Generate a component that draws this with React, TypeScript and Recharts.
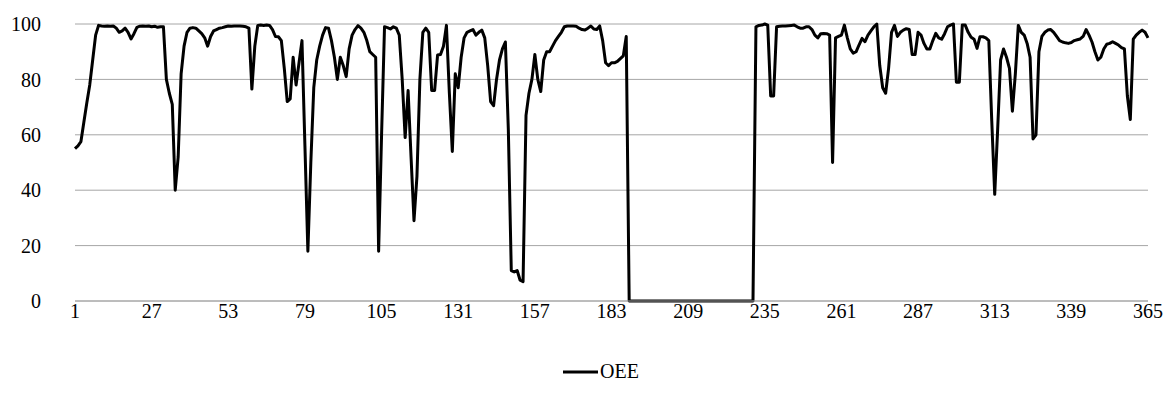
import { LineChart, Line, XAxis, YAxis, CartesianGrid, Legend } from 'recharts';

const FONT = '"Liberation Serif", "DejaVu Serif", "Times New Roman", Times, serif';

// daily OEE, split by quarter (365 days)
const oeeQ1 = [
  55, 56, 57.5, 64.5, 71.5, 78, 87, 96, 99.5, 99.3,
  99.2, 99.3, 99.2, 99.3, 98.5, 97, 97.5, 98.5, 97, 94.6,
  96.5, 98.8, 99.2, 99.3, 99.2, 99.3, 99, 99.2, 98.8, 99,
  99, 80, 75, 71, 40, 52, 82, 92, 97, 98.5,
  98.7, 98.5, 97.5, 96.5, 95, 92, 95.5, 97.5, 98, 98.5,
  98.7, 99, 99.3, 99.2, 99.3, 99.3, 99.3, 99.2, 99, 98.5,
  76.5, 92, 99.5, 99.6, 99.5, 99.6, 99.5, 98, 95.5, 95.4,
  94, 84, 72, 73, 88, 78, 86, 94, 56, 18,
  50, 77, 87, 92, 96, 98.7, 98.5, 94, 88, 80,
];

const oeeQ2 = [
  88, 85, 81, 91, 96, 98, 99.4, 98.5, 97, 94,
  90, 89, 88, 18, 60, 99, 98.7, 98.2, 99, 98.5,
  96, 80, 59, 76, 52, 29, 45, 80, 97, 98.5,
  97, 76, 76, 88.8, 89, 92, 99.5, 75, 54, 82,
  77, 88, 95, 97, 97.5, 98, 96, 97, 97.8, 95,
  85, 72, 70.5, 80, 87, 91, 93.5, 62, 11, 10.5,
  11, 7.5, 7, 67, 75, 80, 89, 80, 75.6, 87,
  90, 90, 92, 94, 95.5, 97, 99, 99.3, 99.3, 99.3,
  99.2, 98.5, 98, 97.8, 98.5, 99.3, 98.2, 98, 99.3, 94,
  86,
];

const oeeQ3 = [
  85, 86, 86, 86.5, 87.5, 88.5, 95.5, 0, 0,
  0, 0, 0, 0, 0, 0, 0, 0, 0, 0,
  0, 0, 0, 0, 0, 0, 0, 0, 0, 0,
  0, 0, 0, 0, 0, 0, 0, 0, 0, 0,
  0, 0, 0, 0, 0, 0, 0, 0, 0, 0,
  0,
  99, 99.5, 99.6, 100, 99.6, 74, 74, 99, 99.2,
  99.3, 99.3, 99.4, 99.5, 99.6, 99, 98.5, 98.5, 99, 99,
  98, 96, 95, 96.5, 96.6, 96.5, 96, 50, 95, 95.5,
  96, 99.6, 95, 91, 89.5, 90, 92.5, 94.8, 93.6, 96,
  97.5, 99, 100,
];

const oeeQ4 = [
  85, 77, 75, 84, 97, 99.5, 95.5,
  97, 97.8, 98.3, 98, 89, 89, 97, 96, 93, 91,
  91, 94, 96.6, 95, 94.5, 96.5, 99, 99.6, 100, 79,
  79, 99.6, 99.6, 97, 95.2, 94.5, 91.2, 95.4, 95.4, 95,
  94, 65, 38.5, 62, 87, 91, 88, 84, 68.5, 82,
  99.5, 97, 96, 93, 88, 58.5, 60, 90, 95.5, 97,
  97.8, 98, 97, 95.5, 94, 93.5, 93.2, 93, 93.3, 94,
  94.3, 94.6, 95.5, 98, 96, 93.5, 90, 87, 88, 91,
  92.7, 93, 93.6, 93, 92.4, 91.5, 91, 74, 65.5, 94.5,
  96, 97, 97.8, 97, 95,
];

const dayTicks = [1, 27, 53, 79, 105, 131, 157, 183, 209, 235, 261, 287, 313, 339, 365];
const valueTicks = [0, 20, 40, 60, 80, 100];

const oee = [...oeeQ1, ...oeeQ2, ...oeeQ3, ...oeeQ4];
const data = oee.map((value, i) => ({ day: i + 1, oee: value }));

const renderLegend = () => (
  <div style={{ display: 'flex', alignItems: 'center', fontFamily: FONT, fontSize: 20, color: '#000' }}>
    <svg width={35} height={10}>
      <line x1={0} y1={5} x2={35} y2={5} stroke="#000" strokeWidth={3} />
    </svg>
    <span style={{ marginLeft: 2 }}>OEE</span>
  </div>
);

export default function App() {
  return (
    <LineChart
      width={1158}
      height={394}
      data={data}
      margin={{ top: 16, right: 18, left: 0, bottom: 0 }}
    >
      <CartesianGrid vertical={false} stroke="#a6a6a6" strokeWidth={1} />
      <XAxis
        dataKey="day"
        type="number"
        domain={[1, 365]}
        ticks={dayTicks}
        axisLine={{ stroke: '#a6a6a6' }}
        tickLine={false}
        tickSize={0}
        tickMargin={3}
        height={78}
        tick={{ fill: '#000', fontSize: 20, fontFamily: FONT }}
        interval={0}
      />
      <YAxis
        domain={[0, 100]}
        ticks={valueTicks}
        axisLine={false}
        tickLine={false}
        tickSize={0}
        tickMargin={34}
        width={67}
        tick={{ fill: '#000', fontSize: 20, fontFamily: FONT }}
      />
      <Legend
        content={renderLegend}
        wrapperStyle={{ left: 555, top: 352, width: 'auto', height: 'auto' }}
      />
      <Line
        type="linear"
        dataKey="oee"
        stroke="#000"
        strokeWidth={3}
        strokeLinejoin="round"
        dot={false}
        activeDot={false}
        isAnimationActive={false}
      />
    </LineChart>
  );
}
